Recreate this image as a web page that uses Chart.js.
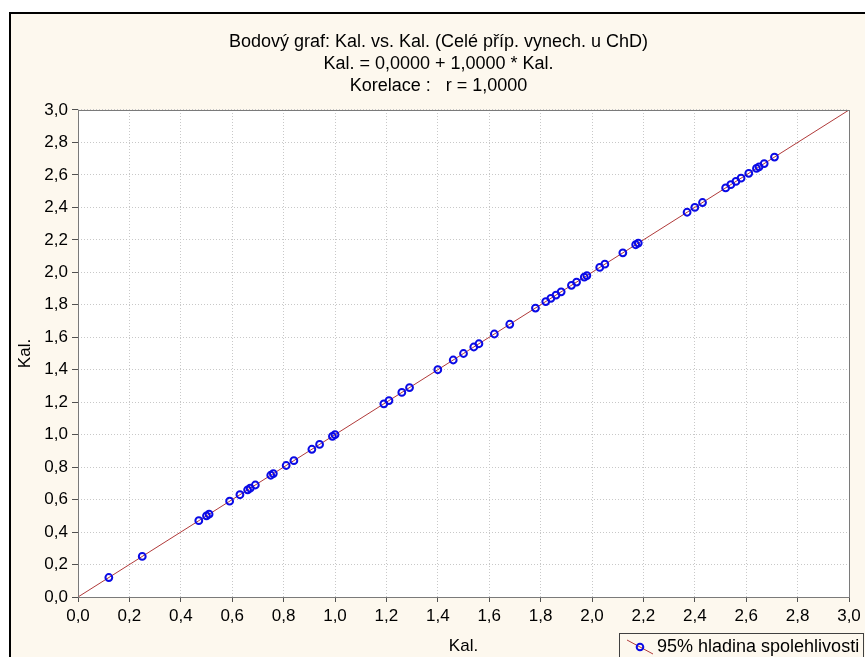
<!DOCTYPE html>
<html>
<head>
<meta charset="utf-8">
<script src="https://cdn.jsdelivr.net/npm/chart.js@4/dist/chart.umd.min.js"></script>
<style>
    html, body { margin: 0; padding: 0; background: #fff; }
</style>
</head>
<body>
<canvas id="canvasBodovy" width="865" height="657"></canvas>
<script>
// hodnoty (Kal. vs. Kal.)
let hodnotyX = [0.12, 0.25, 0.47, 0.50, 0.51, 0.59, 0.63, 0.66, 0.67, 0.69, 0.75, 0.76, 0.81, 0.84,
    0.91, 0.94, 0.99, 1.00, 1.19, 1.21, 1.26, 1.29, 1.40, 1.46, 1.50, 1.54, 1.56, 1.62, 1.68,
    1.78, 1.82, 1.84, 1.86, 1.88, 1.92, 1.94, 1.97, 1.98, 2.03, 2.05, 2.12, 2.17, 2.18,
    2.37, 2.40, 2.43, 2.52, 2.54, 2.56, 2.58, 2.61, 2.64, 2.65, 2.67, 2.71];
let hodnotyY = [0.12, 0.25, 0.47, 0.50, 0.51, 0.59, 0.63, 0.66, 0.67, 0.69, 0.75, 0.76, 0.81, 0.84,
    0.91, 0.94, 0.99, 1.00, 1.19, 1.21, 1.26, 1.29, 1.40, 1.46, 1.50, 1.54, 1.56, 1.62, 1.68,
    1.78, 1.82, 1.84, 1.86, 1.88, 1.92, 1.94, 1.97, 1.98, 2.03, 2.05, 2.12, 2.17, 2.18,
    2.37, 2.40, 2.43, 2.52, 2.54, 2.56, 2.58, 2.61, 2.64, 2.65, 2.67, 2.71];
let rozsahOsy = [0, 3];
let krokOsy = 0.2;
let primkaA = 0;   // Kal. = 0,0000 + 1,0000 * Kal.
let primkaB = 1;
let titulky = ['Bodový graf: Kal. vs. Kal. (Celé příp. vynech. u ChD)', 'Kal. = 0,0000 + 1,0000 * Kal.', 'Korelace :   r = 1,0000'];
let popisekX = 'Kal.';
let popisekY = 'Kal.';
let popisekLegendy = '95% hladina spolehlivosti';

let pismo = '"Liberation Sans", Arial, sans-serif';

let body = hodnotyX.map(function (x, i) { return { x: x, y: hodnotyY[i] }; });
let primka = rozsahOsy.map(function (x) { return { x: x, y: primkaA + primkaB * x }; });

function formatCisla(v) {
    return Number(v).toFixed(1).replace('.', ',');
}

let dekorace = {
    id: 'dekorace',
    beforeDraw: function (chart) {
        let c = chart.ctx, a = chart.chartArea;
        c.save();
        c.fillStyle = '#ffffff';
        c.fillRect(0, 0, chart.width, chart.height);
        c.fillStyle = '#fdf8ee';
        c.fillRect(10, 13, chart.width - 10, chart.height - 13);
        c.strokeStyle = '#000';
        c.lineWidth = 2;
        c.beginPath();
        c.moveTo(10, chart.height);
        c.lineTo(10, 13);
        c.lineTo(chart.width, 13);
        c.stroke();
        c.fillStyle = '#ffffff';
        c.fillRect(a.left, a.top, a.right - a.left, a.bottom - a.top);
        c.restore();
    },
    afterDraw: function (chart) {
        let c = chart.ctx, a = chart.chartArea;
        c.save();
        // rámeček grafu
        c.strokeStyle = '#7a7a7a';
        c.lineWidth = 1;
        c.strokeRect(Math.round(a.left) + 0.5, Math.round(a.top) + 0.5, Math.round(a.right - a.left), Math.round(a.bottom - a.top));

        // legenda
        let ds = chart.data.datasets[0], ln = chart.data.datasets[1];
        let lx = Math.round(a.right) - 230, ly = Math.round(a.bottom) + 36;
        c.fillStyle = '#fdf8ee';
        c.fillRect(lx, ly, 260, 40);
        c.strokeStyle = '#404040';
        c.strokeRect(lx + 0.5, ly + 0.5, 244, 40);
        c.strokeStyle = ln.borderColor;
        c.beginPath();
        c.moveTo(lx + 8, ly + 7);
        c.lineTo(lx + 34, ly + 21);
        c.stroke();
        c.strokeStyle = ds.pointBorderColor;
        c.lineWidth = 2;
        c.beginPath();
        c.arc(lx + 21, ly + 14, 3.3, 0, Math.PI * 2);
        c.stroke();
        c.fillStyle = '#000';
        c.font = '18px ' + pismo;
        c.textBaseline = 'middle';
        c.fillText(popisekLegendy, lx + 38, ly + 14);
        c.restore();
    }
};

let grafBodovy = new Chart(document.getElementById('canvasBodovy').getContext('2d'), {
    type: 'scatter',
    data: {
        datasets: [{
            label: popisekLegendy,
            data: body,
            showLine: false,
            pointRadius: 3.4,
            pointBorderWidth: 2,
            pointBorderColor: '#0a0ae6',
            pointBackgroundColor: 'rgba(255,255,255,0)'
        }, {
            label: 'primka',
            data: primka,
            showLine: true,
            pointRadius: 0,
            borderColor: '#b03a3a',
            borderWidth: 1,
            fill: false
        }]
    },
    options: {
        responsive: false,
        animation: false,
        events: [],
        layout: { padding: { left: 12, right: 0, top: 0, bottom: 0 } },
        plugins: {
            legend: { display: false },
            tooltip: { enabled: false },
            title: {
                display: true,
                text: titulky,
                color: '#000',
                font: { family: pismo, size: 18, weight: 'normal', lineHeight: 1.222 },
                padding: { top: 31, bottom: 13 }
            }
        },
        scales: {
            x: {
                type: 'linear',
                min: rozsahOsy[0],
                max: rozsahOsy[1],
                ticks: {
                    stepSize: krokOsy,
                    autoSkip: false,
                    maxRotation: 0,
                    padding: 4,
                    color: '#000',
                    font: { family: pismo, size: 17 },
                    callback: formatCisla
                },
                grid: { color: '#c8c8c8', tickColor: '#505050', tickLength: 5, tickBorderDash: [] },
                border: { display: false, dash: [1, 2] },
                title: {
                    display: true,
                    text: popisekX,
                    color: '#000',
                    font: { family: pismo, size: 17 },
                    padding: { top: 4, bottom: 0 }
                },
                afterFit: function (s) { s.height = 60; s.paddingRight = 16; }
            },
            y: {
                type: 'linear',
                min: rozsahOsy[0],
                max: rozsahOsy[1],
                ticks: {
                    stepSize: krokOsy,
                    autoSkip: false,
                    padding: 4,
                    color: '#000',
                    font: { family: pismo, size: 17 },
                    callback: formatCisla
                },
                grid: { color: '#c8c8c8', tickColor: '#505050', tickLength: 6, tickBorderDash: [] },
                border: { display: false, dash: [1, 2] },
                title: {
                    display: true,
                    text: popisekY,
                    color: '#000',
                    font: { family: pismo, size: 17 },
                    padding: { top: 3, bottom: 0 }
                },
                afterFit: function (s) { s.width = 66; }
            }
        }
    },
    plugins: [dekorace]
});
</script>
</body>
</html>
